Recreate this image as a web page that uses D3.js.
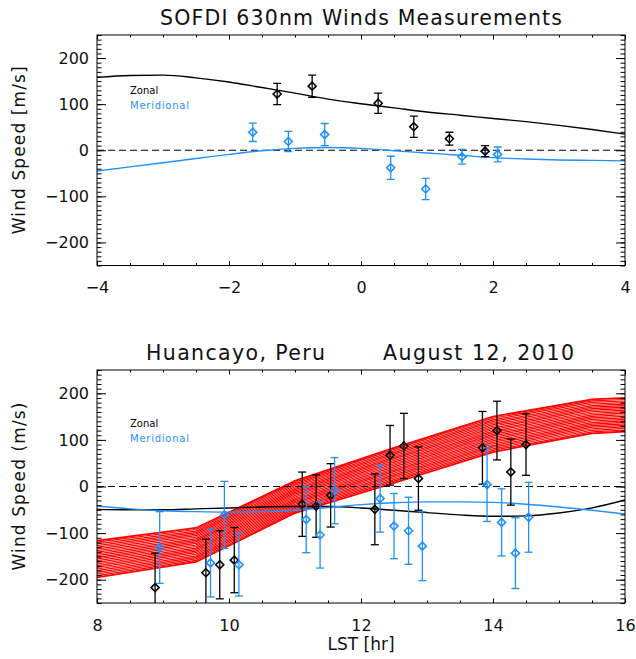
<!DOCTYPE html>
<html>
<head>
<meta charset="utf-8">
<script src="https://cdn.jsdelivr.net/npm/d3@7"></script>
<style>
  html, body { margin: 0; padding: 0; background: #fff; }
  svg { display: block; font-family: "DejaVu Sans", sans-serif; }
</style>
</head>
<body>
<svg id="chart" width="636" height="659"></svg>
<script>
// ---- SOFDI 630 nm winds (hours relative to reference time) ----
const sofdiZonalHour  = [-1.27, -0.74, 0.26, 0.80, 1.34, 1.88];
const sofdiZonalSpeed = [122, 139, 102, 51, 25, -2];
const sofdiZonalErr   = [23, 24, 22, 23, 14, 12];

const sofdiMeridHour  = [-1.64, -1.10, -0.55, 0.45, 0.98, 1.53, 2.07];
const sofdiMeridSpeed = [39, 19, 34, -38, -84, -14, -9];
const sofdiMeridErr   = [20, 22, 24, 25, 23, 16, 16];

const sofdiModelHour  = [-4, -3.5, -3, -2.5, -2, -1.5, -1, -0.5, 0, 0.5, 1, 1.5, 2, 2.5, 3, 3.5, 4];
const sofdiZonalModel = [158, 162, 163, 157, 148, 136, 124, 111, 101, 92, 83, 76, 69, 62, 54, 45, 35];
const sofdiMeridModel = [-45, -36, -27, -18, -9, -1, 4, 6, 4, -1, -6, -11, -16, -19, -21, -22, -23];

// ---- Huancayo, Peru, August 12, 2010 (local solar time) ----
const hcyZonalHour  = [8.88, 9.65, 9.86, 10.08, 11.11, 11.32, 11.54, 12.21, 12.44, 12.65, 12.87, 13.84, 14.06, 14.27, 14.50];
const hcyZonalSpeed = [-217, -185, -168, -158, -38, -42, -19, -49, 67, 87, 17, 83, 120, 31, 90];
const hcyZonalErr   = [74, 72, 73, 70, 69, 67, 68, 76, 64, 70, 68, 78, 63, 71, 66];

const hcyMeridHour  = [8.95, 9.72, 9.93, 10.15, 11.17, 11.38, 11.60, 12.29, 12.50, 12.72, 12.93, 13.91, 14.13, 14.34, 14.54];
const hcyMeridSpeed = [-131, -164, -61, -168, -71, -104, -9, -26, -85, -95, -128, 4, -77, -143, -66];
const hcyMeridErr   = [77, 73, 72, 67, 71, 71, 71, 72, 70, 72, 74, 79, 72, 76, 75];

const hcyModelHour  = [8, 8.5, 9, 9.5, 10, 10.5, 11, 11.5, 12, 12.5, 13, 13.5, 14, 14.5, 15, 15.5, 16];
const hcyZonalModel = [-49, -50, -50, -48, -46, -44, -43, -43, -46, -51, -56, -61, -64, -63, -57, -46, -29];
const hcyMeridModel = [-42, -48, -52, -54, -55, -54, -51, -45, -39, -35, -33, -33, -34, -38, -44, -51, -59];

// model envelope (lower / upper bound)
const bandHour  = [8, 9.5, 11, 12.5, 14, 15.5, 16];
const bandLow   = [-195, -162, -57, 8, 74, 114, 118];
const bandHigh  = [-116, -89, 12, 83, 150, 187, 190];

// ---- axis ticks / labels ----
const speedTicks = [-200, -100, 0, 100, 200];
const sofdiHourTicks = [-4, -2, 0, 2, 4];
const hcyHourTicks = [8, 10, 12, 14, 16];
const legendLabels = ["Zonal", "Meridional"];

const ZONAL_COLOR = "#000000";
const MERID_COLOR = "#1e90ff";
const BAND_COLOR  = "#ff0000";

const svg = d3.select("#chart");

function drawPanel(cfg) {
  const { left, right, top, bottom, xDomain, xTicks, id } = cfg;
  const x = d3.scaleLinear().domain(xDomain).range([left, right]);
  const y = d3.scaleLinear().domain([-250, 250]).range([bottom, top]);
  const g = svg.append("g");

  svg.append("clipPath").attr("id", id)
    .append("rect").attr("x", left).attr("y", top)
    .attr("width", right - left).attr("height", bottom - top);

  const plot = g.append("g").attr("clip-path", `url(#${id})`);

  if (cfg.drawInside) cfg.drawInside(plot, x, y);

  // zero line
  plot.append("line")
    .attr("x1", left).attr("x2", right)
    .attr("y1", y(0)).attr("y2", y(0))
    .attr("stroke", "#000").attr("stroke-width", 1.2)
    .attr("stroke-dasharray", "7,4");

  const line = d3.line().curve(d3.curveMonotoneX);
  plot.append("path")
    .attr("d", line(cfg.modelHour.map((h, i) => [x(h), y(cfg.zonalModel[i])])))
    .attr("fill", "none").attr("stroke", ZONAL_COLOR).attr("stroke-width", 1.4);
  plot.append("path")
    .attr("d", line(cfg.modelHour.map((h, i) => [x(h), y(cfg.meridModel[i])])))
    .attr("fill", "none").attr("stroke", MERID_COLOR).attr("stroke-width", 1.4);

  function points(hours, speeds, errs, color) {
    const pg = plot.append("g").attr("stroke", color).attr("fill", "none");
    hours.forEach((h, i) => {
      const cx = x(h), v = speeds[i], e = errs[i];
      const y0 = y(v - e), y1 = y(v + e);
      pg.append("line").attr("x1", cx).attr("x2", cx).attr("y1", y0).attr("y2", y1)
        .attr("stroke-width", 1.3);
      [y0, y1].forEach(yy => pg.append("line")
        .attr("x1", cx - 4).attr("x2", cx + 4).attr("y1", yy).attr("y2", yy)
        .attr("stroke-width", 1.3));
      const cy = y(v), r = 4;
      pg.append("path")
        .attr("d", `M${cx},${cy - r}L${cx + r},${cy}L${cx},${cy + r}L${cx - r},${cy}Z`)
        .attr("stroke-width", 1.6);
    });
  }
  points(cfg.zonalHour, cfg.zonalSpeed, cfg.zonalErr, ZONAL_COLOR);
  points(cfg.meridHour, cfg.meridSpeed, cfg.meridErr, MERID_COLOR);

  // frame
  g.append("rect").attr("x", left).attr("y", top)
    .attr("width", right - left).attr("height", bottom - top)
    .attr("fill", "none").attr("stroke", "#000").attr("stroke-width", 1);

  // minor ticks
  const xMinor = d3.range(xDomain[0], xDomain[1] + 0.001, 0.5);
  const yMinor = d3.range(-250, 251, 10);
  const axes = [
    [d3.axisBottom(x).tickValues(xMinor).tickSize(-2.5), `translate(0,${bottom})`],
    [d3.axisTop(x).tickValues(xMinor).tickSize(-2.5), `translate(0,${top})`],
    [d3.axisLeft(y).tickValues(yMinor).tickSize(-4.5), `translate(${left},0)`],
    [d3.axisRight(y).tickValues(yMinor).tickSize(-4.5), `translate(${right},0)`],
    [d3.axisTop(x).tickValues(xTicks).tickSize(-4.5), `translate(0,${top})`],
    [d3.axisRight(y).tickValues(speedTicks).tickSize(-9), `translate(${right},0)`]
  ];
  axes.forEach(([ax, tr]) => {
    const a = g.append("g").attr("transform", tr).call(ax.tickFormat(""));
    a.select(".domain").remove();
    a.selectAll("line").attr("stroke-width", 1);
  });

  // labelled major ticks
  const xa = g.append("g").attr("transform", `translate(0,${bottom})`)
    .call(d3.axisBottom(x).tickValues(xTicks).tickSize(-4.5).tickPadding(16.5).tickFormat(d3.format("d")));
  const ya = g.append("g").attr("transform", `translate(${left},0)`)
    .call(d3.axisLeft(y).tickValues(speedTicks).tickSize(-9).tickPadding(8).tickFormat(d3.format("d")));
  [xa, ya].forEach(a => {
    a.select(".domain").remove();
    a.selectAll("line").attr("stroke-width", 1);
    a.selectAll("text").attr("font-size", 16).attr("font-family", "DejaVu Sans").attr("fill", "#111");
  });

  // y label
  g.append("text")
    .attr("transform", `translate(25,${(top + bottom) / 2}) rotate(-90)`)
    .attr("text-anchor", "middle").attr("font-size", 17).attr("fill", "#111")
    .attr("textLength", 168).attr("lengthAdjust", "spacing")
    .text(cfg.yLabel);

  // legend
  g.append("text").attr("x", 130).attr("y", top + cfg.legendOffset)
    .attr("font-size", 10).attr("fill", ZONAL_COLOR)
    .text(legendLabels[0]);
  g.append("text").attr("x", 130).attr("y", top + cfg.legendOffset + 15)
    .attr("font-size", 10).attr("fill", MERID_COLOR)
    .attr("textLength", 59).attr("lengthAdjust", "spacing").text(legendLabels[1]);

  return { x, y, g };
}

// top panel
drawPanel({
  id: "clipTop", left: 97, right: 625, top: 35, bottom: 265.5,
  xDomain: [-4, 4], xTicks: sofdiHourTicks,
  zonalHour: sofdiZonalHour, zonalSpeed: sofdiZonalSpeed, zonalErr: sofdiZonalErr,
  meridHour: sofdiMeridHour, meridSpeed: sofdiMeridSpeed, meridErr: sofdiMeridErr,
  modelHour: sofdiModelHour, zonalModel: sofdiZonalModel, meridModel: sofdiMeridModel,
  yLabel: "Wind Speed [m/s]", legendOffset: 59
});

// bottom panel with model envelope
drawPanel({
  id: "clipBottom", left: 97, right: 625, top: 370, bottom: 603,
  xDomain: [8, 16], xTicks: hcyHourTicks,
  zonalHour: hcyZonalHour, zonalSpeed: hcyZonalSpeed, zonalErr: hcyZonalErr,
  meridHour: hcyMeridHour, meridSpeed: hcyMeridSpeed, meridErr: hcyMeridErr,
  modelHour: hcyModelHour, zonalModel: hcyZonalModel, meridModel: hcyMeridModel,
  yLabel: "Wind Speed (m/s)", legendOffset: 57,
  drawInside: (plot, x, y) => {
    // envelope shaded with closely spaced red lines
    const nLines = 22;
    const bl = d3.line();
    const bg = plot.append("g").attr("fill", "none").attr("stroke", BAND_COLOR);
    d3.range(nLines + 1).forEach(k => {
      const f = k / nLines;
      const edge = (k === 0 || k === nLines);
      bg.append("path")
        .attr("d", bl(bandHour.map((h, i) => [x(h), y(bandLow[i] + f * (bandHigh[i] - bandLow[i]))])))
        .attr("stroke-width", edge ? 1.8 : 1.2);
    });
  }
});

// titles
svg.append("text").attr("x", 160).attr("y", 25)
  .attr("font-size", 20.5).attr("fill", "#111")
  .attr("textLength", 402).attr("lengthAdjust", "spacing")
  .text("SOFDI 630nm Winds Measurements");
svg.append("text").attr("x", 146).attr("y", 360)
  .attr("font-size", 20.5).attr("fill", "#111")
  .attr("textLength", 179).attr("lengthAdjust", "spacing")
  .text("Huancayo, Peru");
svg.append("text").attr("x", 383).attr("y", 360)
  .attr("font-size", 20.5).attr("fill", "#111")
  .attr("textLength", 191).attr("lengthAdjust", "spacing")
  .text("August 12, 2010");

// x label
svg.append("text").attr("x", 361).attr("y", 650)
  .attr("text-anchor", "middle").attr("font-size", 17).attr("fill", "#111")
  .text("LST [hr]");
</script>
</body>
</html>
